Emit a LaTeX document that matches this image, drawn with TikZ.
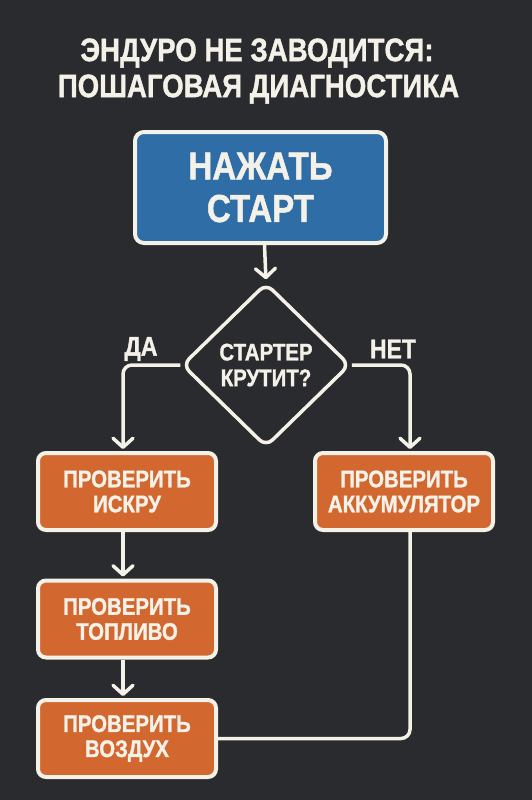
\documentclass[tikz,border=0pt]{standalone}
\usepackage{fontspec}
\newfontfamily\dfont[FakeStretch=0.85,FakeBold=1.2]{Liberation Sans Bold}
\usetikzlibrary{arrows.meta,shapes.geometric}
\definecolor{bgc}{HTML}{2A2B2E}
\definecolor{bluec}{HTML}{2E6DA6}
\definecolor{orc}{HTML}{D2682F}
\definecolor{wc}{HTML}{F4F1E8}
\tikzset{
  titletext/.style={text=wc, font=\dfont\fontsize{32.5}{36}\selectfont, inner sep=0},
  startbox/.style={draw=wc, line width=4pt, fill=bluec, rounded corners=9pt, text=wc,
    align=center, font=\dfont\fontsize{39}{42.5}\selectfont, minimum width=251pt, minimum height=111pt},
  decbox/.style={diamond, draw=wc, line width=3.5pt, fill=bgc, rounded corners=9pt, text=wc,
    align=center, inner sep=0, font=\dfont\fontsize{24}{25.7}\selectfont, minimum width=168pt, minimum height=164pt},
  stepbox/.style={draw=wc, line width=4pt, fill=orc, rounded corners=8pt, text=wc,
    align=center, font=\dfont\fontsize{24}{25}\selectfont, minimum width=178pt, minimum height=77pt},
  lbl/.style={text=wc, font=\dfont\fontsize{27}{30}\selectfont, inner sep=0},
  conn/.style={draw=wc, line width=3.5pt},
  arr/.style={conn, -{Straight Barb[length=9pt,width=20pt,line cap=round,line join=round]}, shorten >=2pt},
}
\begin{document}
\begin{tikzpicture}[x=1pt,y=-1pt]
\fill[bgc] (0,0) rectangle (532,800);
\useasboundingbox (0,0) rectangle (532,800);
\node[titletext] (t1) at (257,53) {ЭНДУРО НЕ ЗАВОДИТСЯ:};
\node[titletext] (t2) at (258.5,89) {ПОШАГОВАЯ ДИАГНОСТИКА};
\node[startbox] (start) at (260.5,187.5) {НАЖАТЬ\\СТАРТ};
\node[decbox] (q) at (266,365) {СТАРТЕР\\КРУТИТ?};
\node[lbl] (yes) at (141,349) {ДА};
\node[lbl] (no) at (393,349) {НЕТ};
\node[stepbox] (b1) at (127,491.5) {ПРОВЕРИТЬ\\ИСКРУ};
\node[stepbox] (acc) at (404,491.5) {ПРОВЕРИТЬ\\АККУМУЛЯТОР};
\node[stepbox] (b2) at (127,619) {ПРОВЕРИТЬ\\ТОПЛИВО};
\node[stepbox] (b3) at (127,738.5) {ПРОВЕРИТЬ\\ВОЗДУХ};
\draw[arr] ([xshift=4pt]start.south) -- (q.north);
\draw[arr, rounded corners=9pt] (q.west) -| ([xshift=-4pt]b1.north);
\draw[arr, rounded corners=9pt] (q.east) -| ([xshift=6pt]acc.north);
\draw[arr] ([xshift=-4pt]b1.south) -- ([xshift=-4pt]b2.north);
\draw[arr] ([xshift=-4pt]b2.south) -- ([xshift=-4pt]b3.north);
\draw[conn, rounded corners=9pt] ([xshift=6pt]acc.south) |- (b3.east);
\end{tikzpicture}
\end{document}
